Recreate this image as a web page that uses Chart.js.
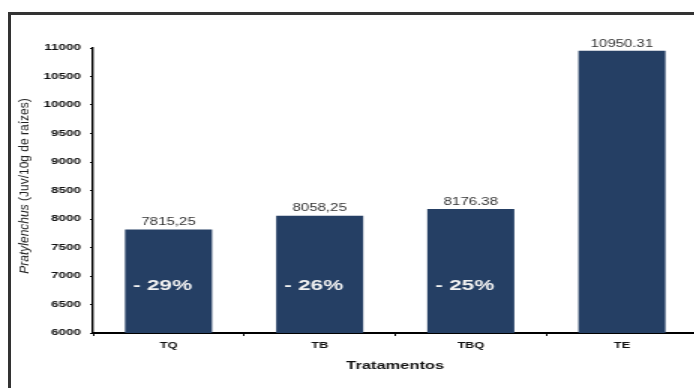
<!DOCTYPE html>
<html><head><meta charset="utf-8">
<script src="https://cdn.jsdelivr.net/npm/chart.js@4/dist/chart.umd.min.js"></script>
<style>
html,body{margin:0;padding:0;width:694px;height:388px;overflow:hidden;background:#fff;}
#frame{position:absolute;left:8px;top:12px;width:760px;height:460px;border:3px solid #333;}
#wrap{position:absolute;left:0;top:0;width:465px;height:388px;transform:scaleX(1.5);transform-origin:0 0;}
</style></head><body>
<div id="frame"></div>
<div id="wrap"><canvas id="c" width="465" height="388"></canvas></div>
<script>
const categories = ['TQ', 'TB', 'TBQ', 'TE'];
const values = [7815.25, 8058.25, 8176.38, 10950.31];
const valueLabels = ['7815,25', '8058,25', '8176.38', '10950.31'];
const reductionLabels = ['- 29%', '- 26%', '- 25%', ''];
const yMin = 6000, yMax = 11000, yStep = 500;
const yTitleItalic = 'Pratylenchus';
const yTitleRest = ' (Juv/10g de raízes)';
const xTitle = 'Tratamentos';

const labelPlugin = {
  id: 'labels',
  afterDatasetsDraw(chart) {
    const ctx = chart.ctx;
    const meta = chart.getDatasetMeta(0);
    const ys = chart.scales.y;
    ctx.save();
    meta.data.forEach((bar, i) => {
      ctx.font = '10px Arial, "Liberation Sans", sans-serif';
      ctx.fillStyle = '#333';
      ctx.textAlign = 'center';
      ctx.textBaseline = 'middle';
      ctx.fillText(valueLabels[i], bar.x, bar.y - 7);
      if (reductionLabels[i]) {
        ctx.font = 'bold 15px Arial, "Liberation Sans", sans-serif';
        ctx.fillStyle = '#f2f2f2';
        ctx.fillText(reductionLabels[i], bar.x - 4, ys.getPixelForValue(6830));
      }
    });
    ctx.restore();
  },
  afterDraw(chart) {
    const ctx = chart.ctx;
    ctx.save();
    ctx.translate(16.7, 186);
    ctx.rotate(-Math.PI / 2);
    ctx.scale(1, 0.75);
    ctx.fillStyle = '#222';
    ctx.textBaseline = 'middle';
    ctx.textAlign = 'left';
    const fI = 'italic 12px Arial, "Liberation Sans", sans-serif';
    const fN = '12px Arial, "Liberation Sans", sans-serif';
    ctx.font = fI; const w1 = ctx.measureText(yTitleItalic).width;
    ctx.font = fN; const w2 = ctx.measureText(yTitleRest).width;
    let x = -(w1 + w2) / 2;
    ctx.font = fI; ctx.fillText(yTitleItalic, x, 0);
    ctx.font = fN; ctx.fillText(yTitleRest, x + w1, 0);
    ctx.restore();
  }
};

new Chart(document.getElementById('c'), {
  type: 'bar',
  data: {
    labels: categories,
    datasets: [{
      data: values,
      backgroundColor: '#253f64',
      borderWidth: 0,
      barPercentage: 0.576,
      categoryPercentage: 1
    }]
  },
  options: {
    responsive: false,
    animation: false,
    layout: { padding: { left: 0, right: 0, top: 48, bottom: 0 } },
    plugins: { legend: { display: false }, tooltip: { enabled: false } },
    scales: {
      x: {
        offset: true,
        afterFit(s) { s.height = 55; },
        grid: { offset: true, drawOnChartArea: false, drawTicks: true, tickLength: 3, color: '#000', lineWidth: 1 },
        border: { display: true, color: '#000', width: 2 },
        ticks: { color: '#111', padding: 5, font: { family: 'Arial, "Liberation Sans", sans-serif', size: 8.5, weight: 'bold' } },
        title: { display: true, text: xTitle, color: '#111', padding: { top: 0, bottom: 15 }, font: { family: 'Arial, "Liberation Sans", sans-serif', size: 11, weight: 'bold' } }
      },
      y: {
        min: yMin, max: yMax,
        afterFit(s) { s.width = 62; },
        afterBuildTicks(s) {
          const t = [];
          for (let v = yMin; v <= yMax; v += yStep) t.push({ value: v });
          s.ticks = t;
        },
        grid: { drawOnChartArea: false, drawTicks: true, tickLength: 2, color: '#000', lineWidth: 1 },
        border: { display: true, color: '#000', width: 1.4 },
        ticks: { color: '#111', padding: 6, callback: (v) => String(v), font: { family: 'Arial, "Liberation Sans", sans-serif', size: 9, weight: 'bold' } },
        title: { display: false }
      }
    }
  },
  plugins: [labelPlugin]
});
</script>
</body></html>
